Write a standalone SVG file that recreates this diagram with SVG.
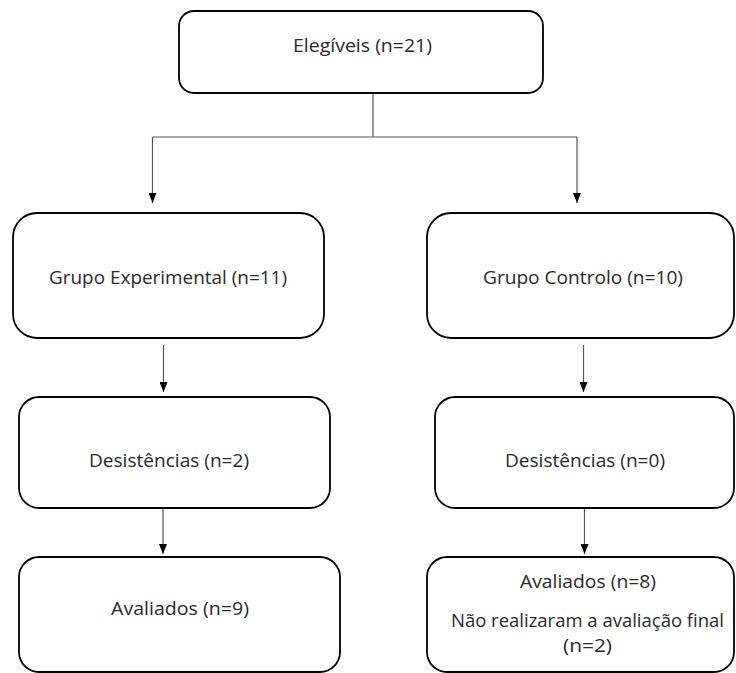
<svg xmlns="http://www.w3.org/2000/svg" width="736" height="673" viewBox="0 0 736 673">
<style>
.box{fill:#fff;stroke:#000;stroke-width:1.8}
.t{font-family:"Open Sans","Noto Sans","Liberation Sans",sans-serif;font-size:18px;fill:#2a2a2a;text-anchor:middle}
.c{fill:none;stroke:#555;stroke-width:1.2}
</style>
<defs>
<marker id="ah" viewBox="0 0 10 8" refX="10" refY="4" markerWidth="10" markerHeight="8" markerUnits="userSpaceOnUse" orient="auto">
<path d="M0,0 L10,4 L0,8 z" fill="#000"/>
</marker>
</defs>
<g id="connectors">
<path class="c" d="M373,93 V137 M152.5,137 H577"/>
<path class="c" d="M152.5,137 V203" marker-end="url(#ah)"/>
<path class="c" d="M577,137 V203" marker-end="url(#ah)"/>
<path class="c" d="M163.5,345 V392" marker-end="url(#ah)"/>
<path class="c" d="M583.5,345 V392" marker-end="url(#ah)"/>
<path class="c" d="M163,509 V554" marker-end="url(#ah)"/>
<path class="c" d="M584.5,509 V554" marker-end="url(#ah)"/>
</g>
<g id="elegiveis">
<rect class="box" x="179" y="11" width="364" height="82" rx="15"/>
<text class="t" x="362.5" y="52" textLength="139" lengthAdjust="spacingAndGlyphs">Elegíveis (n=21)</text>
</g>
<g id="grupo-experimental">
<rect class="box" x="13" y="213" width="311" height="125" rx="24"/>
<text class="t" x="168" y="284" textLength="238" lengthAdjust="spacingAndGlyphs">Grupo Experimental (n=11)</text>
</g>
<g id="grupo-controlo">
<rect class="box" x="427" y="213" width="307" height="125" rx="24"/>
<text class="t" x="583" y="284" textLength="200" lengthAdjust="spacingAndGlyphs">Grupo Controlo (n=10)</text>
</g>
<g id="desistencias-exp">
<rect class="box" x="19" y="397" width="311" height="111" rx="20"/>
<text class="t" x="169" y="467" textLength="160" lengthAdjust="spacingAndGlyphs">Desistências (n=2)</text>
</g>
<g id="desistencias-ctrl">
<rect class="box" x="435" y="397" width="299" height="111" rx="20"/>
<text class="t" x="585" y="467" textLength="160" lengthAdjust="spacingAndGlyphs">Desistências (n=0)</text>
</g>
<g id="avaliados-exp">
<rect class="box" x="19" y="557" width="321" height="115" rx="20"/>
<text class="t" x="180" y="615" textLength="138" lengthAdjust="spacingAndGlyphs">Avaliados (n=9)</text>
</g>
<g id="avaliados-ctrl">
<rect class="box" x="427" y="557" width="307" height="115" rx="20"/>
<text class="t" x="588" y="588" textLength="136" lengthAdjust="spacingAndGlyphs">Avaliados (n=8)</text>
<text class="t" x="587.5" y="627" textLength="273" lengthAdjust="spacingAndGlyphs">Não realizaram a avaliação final</text>
<text class="t" x="587.5" y="652" textLength="49" lengthAdjust="spacingAndGlyphs">(n=2)</text>
</g>
</svg>
